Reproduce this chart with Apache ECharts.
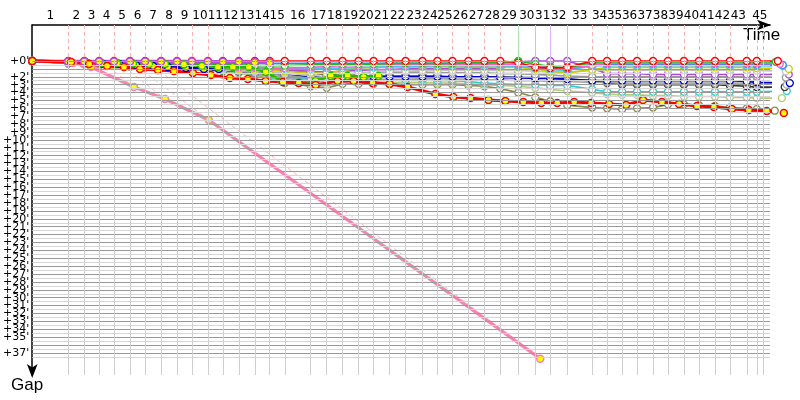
<!DOCTYPE html>
<html><head><meta charset="utf-8">
<script src="https://cdn.jsdelivr.net/npm/echarts@6/dist/echarts.min.js"></script>
<style>html,body{margin:0;padding:0;background:#fff}#c{width:800px;height:400px}</style>
</head><body><div id="c"></div>
<script>
// time (min) at which the leader completes each lap (index 0 = start)
const lapEndTimes = [0,2.34,3.38,4.35,5.32,6.36,7.34,8.38,9.42,10.39,11.43,
  12.40,13.44,14.48,15.45,16.43,18.12,19.16,20.19,21.23,22.21,
  23.25,24.29,25.39,26.36,27.34,28.38,29.42,30.45,31.62,32.73,
  33.70,34.81,36.43,37.40,38.38,39.35,40.39,41.36,42.40,43.38,
  44.42,45.39,46.49,47.14,47.53];
const lapNumbers = Array.from({length:45},(_,i)=>i+1);
const gapTicks = Array.from({length:38},(_,i)=>i);
// leader of each lap 1..45 (R red, G green, P purple)
const lapLeader = ['R','R','R','R','R','R','R','R','R','R','R','R','R','R','R','R','R','R','R','R',
  'R','R','R','R','R','R','R','R','G','P','P','P','R','R','R','R','R','R','R','R','R','R','R','R','R'];

// thin series: gap per lap (0..45)
const gapRed     = [0,0,0,0,0,0,0,0,0,0,0, 0,0,0,0,0,0,0,0,0,0, 0,0,0,0,0,0,0,0, 0.2,0.8,0.9,0.8, 0,0,0,0,0,0,0,0,0,0,0,0,0];
const gapGreen   = [0,0.1,0.2,0.2,0.3,0.3,0.3,0.4,0.4,0.4,0.5, 0.5,0.5,0.6,0.6,0.6,0.5,0.5,0.4,0.4,0.4, 0.3,0.3,0.3,0.3,0.3,0.2,0.2,0.2, 0,0.4,0.7,0.9, 0.15,0.1,0.1,0.1,0.1,0.1,0.1,0.1,0.1,0.1,0.1,0.1,0.1];
const gapMagenta = [0,0.2,0.3,0.3,0.4,0.4,0.5,0.5,0.6,0.6,0.7, 0.7,0.8,0.8,0.9,0.9,0.8,0.7,0.6,0.6,0.5, 0.5,0.5,0.5,0.4,0.4,0.4,0.4,0.4, 0.4,0.6,0.8,1.0, 0.5,0.3,0.3,0.3,0.3,0.3,0.3,0.3,0.3,0.3,0.3,0.3,0.35];
const gapBlue    = [0,0.1,0.2,0.2,0.2,0.3,0.3,0.3,0.3,0.3,0.3, 0.3,0.3,0.3,0.3,0.3,0.3,0.3,0.3,0.3,0.3, 0.3,0.3,0.3,0.3,0.3,0.3,0.3,0.4, 0.5,0.7,0.9,1.1, 0.4,0.4,0.4,0.4,0.4,0.4,0.4,0.4,0.4,0.4,0.4,0.45,0.5];
const gapSky     = [0,0.2,0.3,0.4,0.4,0.5,0.5,0.6,0.6,0.7,0.7, 0.8,0.8,0.9,0.9,1.0,1.0,0.9,0.9,0.8,0.8, 0.7,0.7,0.7,0.6,0.6,0.6,0.6,0.6, 0.7,0.9,1.1,1.2, 0.6,0.6,0.6,0.6,0.6,0.6,0.6,0.6,0.6,0.6,0.6,0.6,0.65];
const gapYellow  = [0,0.2,0.3,0.4,0.5,0.5,0.6,0.6,0.7,0.7,0.8, 0.9,1.0,1.1,1.2,1.3,1.5,1.6,1.2,0.9,0.8, 0.75,0.75,0.75,0.75,0.75,0.75,0.75,0.8, 0.8,1.0,1.3,1.5, 1.1,0.8,0.8,0.8,0.8,0.8,0.8,0.8,0.8,0.8,0.8,0.9,1.0];
const gapSilver  = [0,0.3,0.4,0.5,0.6,0.7,0.8,0.8,0.9,1.0,1.0, 1.1,1.2,1.3,1.4,1.5,1.8,2.0,1.7,1.5,1.4, 1.3,1.3,1.2,1.2,1.2,1.2,1.2,1.2, 1.2,1.3,1.4,1.4, 1.2,1.15,1.15,1.15,1.15,1.15,1.15,1.15,1.15,1.15,1.15,1.2,1.3];
const gapPurple  = [0,0.3,0.4,0.5,0.5,0.6,0.6,0.7,0.7,0.8,0.8, 0.9,0.9,1.0,1.0,1.1,1.3,1.4,1.3,1.2,1.1, 1.1,1.0,1.0,1.0,1.0,0.9,0.9,0.9, 0.1,0,0,0, 0.9,1.6,1.6,1.6,1.7,1.7,1.7,1.7,1.7,1.7,1.7,1.7,1.7];
const gapGray    = [0,0.2,0.3,0.4,0.5,0.6,0.6,0.7,0.8,0.9,1.0, 1.1,1.3,1.5,1.6,1.8,2.2,2.4,2.0,1.6,1.4, 1.4,1.4,1.4,1.5,1.5,1.5,1.5,1.6, 1.6,1.7,1.8,1.9, 2.0,2.0,2.0,2.0,2.0,2.0,2.0,2.0,2.0,2.0,2.0,2.0,2.1];
const gapNavy    = [0,0.2,0.3,0.4,0.5,0.6,0.7,0.7,0.8,0.9,1.0, 1.1,1.3,1.5,1.6,1.8,2.0,2.0,2.0,2.0,2.0, 2.0,2.0,2.0,2.0,2.0,2.0,2.0,2.1, 2.1,2.2,2.2,2.3, 2.5,2.5,2.5,2.5,2.5,2.5,2.5,2.5,2.5,2.5,2.6,2.7,2.8];
const gapAsh     = [0,0.3,0.4,0.5,0.6,0.7,0.7,0.8,0.9,1.0,1.0, 1.1,1.3,1.6,1.8,2.2,2.5,2.7,2.4,2.2,2.1, 2.1,2.1,2.2,2.2,2.3,2.3,2.4,2.4, 2.5,2.5,2.6,2.6, 2.7,2.7,2.8,2.8,2.8,2.8,2.8,2.8,2.8,2.8,2.8,2.9,3.0];
const gapBlack   = [0,0.3,0.4,0.5,0.6,0.7,0.8,0.9,0.9,1.0,1.1, 1.2,1.3,1.5,1.0,1.2,1.5,1.7,1.8,1.9,1.9, 1.9,1.9,1.9,1.9,2.0,2.0,2.0,2.0, 2.1,2.1,2.2,2.3, 2.5,2.8,3.0,3.0,3.0,3.0,3.0,3.0,3.0,3.1,3.2,3.3,3.3];
const gapCyan    = [0,0.3,0.4,0.5,0.6,0.7,0.8,0.9,1.0,1.0,1.1, 1.2,1.4,1.7,1.9,2.1,2.3,2.4,2.4,2.4,2.4, 2.4,2.4,2.4,2.5,2.5,2.6,2.8,2.9, 3.0,3.0,3.1,3.1, 3.6,3.9,3.9,3.9,3.9,3.9,3.9,3.9,3.9,3.9,3.9,3.9,3.8];
const gapLime    = [0,0.3,0.4,0.5,0.6,0.7,0.8,0.9,1.0,1.1,1.2, 1.3,1.5,1.9,2.3,2.6,2.9,3.0,1.9,2.4,2.6, 2.7,2.7,2.7,2.8,2.8,2.9,3.0,3.1, 3.2,3.4,3.6,3.8, 4.0,4.2,4.3,4.3,4.4,4.4,4.5,4.5,4.5,4.6,4.6,4.7,4.7];
const gapOlive   = [0,0.3,0.4,0.5,0.6,0.7,0.8,0.9,1.0,1.1,1.2, 1.3,1.5,1.8,2.3,2.8,3.2,3.4,2.9,2.9,2.9, 2.9,3.0,3.0,3.0,3.0,3.1,3.2,3.5, 4.0,4.6,5.1,5.6, 5.9,6.0,6.1,6.0,5.9,5.5,5.5,5.6,5.7,5.9,6.0,6.1,6.3];
// finishing time of each thin series (last point)
const finishTimes = {red:48.51, green:48.38, magenta:48.64, blue:48.83, sky:48.83, yellow:49.22, silver:49.03,
  purple:49.22, gray:49.03, navy:49.29, ash:49.09, black:48.96, cyan:49.09, lime:48.77, olive:48.31};

// thick (highlighted) series: own crossing times and gaps
const timeRedY = [0,2.53,3.70,4.87,5.97,7.01,8.18,9.22,10.45,11.62,12.86,14.03,15.19,16.30,17.34,18.44,19.87,20.91,22.14,23.25,24.42,26.23,27.40,28.51,29.68,30.78,31.95,33.12,34.16,35.26,36.36,37.53,38.64,39.74,40.97,42.08,43.25,44.35,45.52,46.62,47.79,48.90];
const gapRedY  = [0,0.13,0.38,0.63,0.76,1.01,1.14,1.27,1.52,1.77,2.15,2.28,2.53,2.66,2.78,3.04,2.53,2.53,2.78,2.91,3.29,4.18,4.56,4.68,4.94,5.06,5.19,5.32,5.32,5.19,5.32,5.44,5.57,4.94,5.19,5.44,5.70,5.82,6.08,6.20,6.33,6.58];
const timeNavyY = [0,2.47,3.57,4.61,5.65,6.75,7.86,8.83,10.0,11.17,12.14];
const gapNavyY  = [0,0.13,0.25,0.38,0.38,0.51,0.63,0.76,0.89,1.01,1.01];
const timeGreenY = [0,2.40,3.51,4.48,5.52,6.56,7.60,8.64,9.87,11.04,12.08,13.05,14.09,15.19,16.23,17.34,18.44,19.42,20.52,21.56,22.53];
const gapGreenY  = [0,0.13,0.19,0.25,0.25,0.32,0.38,0.38,0.44,0.63,0.76,0.76,0.76,1.39,2.53,2.78,2.53,1.90,1.90,2.03,1.90];
const timePurpleY = [0,2.34,3.38,4.35,5.32,6.36,7.34,8.38,9.42,10.39,11.43,12.40,13.44,14.48,15.45];
const gapPurpleY  = [0,0.05,0.05,0.05,0.05,0.05,0.05,0.05,0.05,0.05,0.05,0.1,0.1,0.15,0.2];
const timePinkY = [0,2.66,3.83,6.62,8.64,11.49,33.05];
const gapPinkY  = [0,0.25,0.76,3.29,4.81,7.47,37.72];

const Y_MIN = -4.56, Y_MAX = 39.79, X_MAX = 48;

const thin = [
  ['olive','#8c8a48',gapOlive],['lime','#b4cc78',gapLime],['cyan','#33cccc',gapCyan],['black','#333333',gapBlack],
  ['ash','#a8a8a8',gapAsh],['navy','#0000cc',gapNavy],['gray','#999999',gapGray],['purple','#a84cd0',gapPurple],
  ['silver','#c4c4c4',gapSilver],['yellow','#cccc00',gapYellow],['sky','#40c8f0',gapSky],['blue','#2f86ff',gapBlue],
  ['magenta','#ff5ccd',gapMagenta],['green','#22bb22',gapGreen],['red','#ff0000',gapRed]
];
// [name, colour, times, gaps, line width, lap assignment: by point order or by crossing time]
const thick = [
  ['pinkY','#f386b0',timePinkY,gapPinkY,3.2,'order'],['navyY','#0000dd',timeNavyY,gapNavyY,2.8,'order'],
  ['greenY','#22bb00',timeGreenY,gapGreenY,2.8,'order'],['purpleY','#b84ae6',timePurpleY,gapPurpleY,3.2,'order'],
  ['redY','#ff0000',timeRedY,gapRedY,3,'time']
];

const series = [];
const hLines = [];
for (let v = 0; v <= 37.5; v += 0.5) hLines.push({yAxis: v, lineStyle:{color: v % 1 === 0 ? '#999999' : '#d6d6d6', width:1, type:'solid'}});
const vLines = [];
const leaderCol = {R:'#ffb0b0', G:'#a8e8a8', P:'#e6b0ff'};
for (let k = 1; k < lapEndTimes.length; k++) {
  const t = lapEndTimes[k];
  vLines.push([{coord:[t,0]},{coord:[t,Y_MAX], lineStyle:{color:'#cfcfcf', width:1, type:'solid'}}]);
  const L = lapLeader[k-1];
  vLines.push([{coord:[t,Y_MIN]},{coord:[t,0], lineStyle:{color:leaderCol[L], width:1, type: L==='R' ? [4,3] : 'solid'}}]);
}
series.push({type:'line', data:[], silent:true, z:1,
  markLine:{silent:true, symbol:['none','none'], label:{show:false}, animation:false, data: hLines.concat(vLines)}});

// per-lap points of every car, used for the dashed lap waves
const lapOf = (t)=>{ let k=0; for (let j=1;j<lapEndTimes.length;j++) if (lapEndTimes[j] <= t+0.15) k=j; return k; };
const lapPoints = lapNumbers.map(()=>[]);
const thinData = thin.map(([name,col,gaps])=>gaps.map((g,i)=>[i===gaps.length-1 ? finishTimes[name] : lapEndTimes[i], g]));
thinData.forEach(d=>d.forEach((p,i)=>{ if (i>0 && p[1]!=null) lapPoints[i-1].push(p); }));
thick.forEach(([name,col,ts,gs,w,mode])=>{
  const byLap = {};
  ts.forEach((t,i)=>{ if (i>0) byLap[mode==='order' ? i : lapOf(t)] = [t,gs[i]]; });
  Object.keys(byLap).forEach(k=>{ if (k>0 && k<=45) lapPoints[k-1].push(byLap[k]); });
});
lapPoints.forEach((pts,k)=>{
  pts.sort((a,b)=>a[1]-b[1]);
  const L = lapLeader[k];
  series.push({type:'line', data:pts, silent:true, z:2, symbol:'none', clip:false,
    lineStyle:{color:leaderCol[L], width:1, type: L==='R' ? [4,3] : 'solid'}});
});

thin.forEach(([name,col,gaps],j)=>{
  series.push({type:'line', name, data: thinData[j], clip:false, z:3, symbol:'circle', symbolSize:7,
    lineStyle:{color:col, width:1.7}, itemStyle:{color:'#ffffff', borderColor:col, borderWidth:1.3}});
});
thick.forEach(([name,col,ts,gs,w])=>{
  series.push({type:'line', name, data: ts.map((t,i)=>[t,gs[i]]), clip:false, z:4, symbol:'circle', symbolSize:7,
    lineStyle:{color:col, width:w}, itemStyle:{color:'#ffff00', borderColor:col, borderWidth:1.5}});
});

const lapMid = lapNumbers.map((n)=> (lapEndTimes[n-1]+lapEndTimes[n])/2);

const chart = echarts.init(document.getElementById('c'), null, {renderer:'canvas'});
chart.setOption({
  animation:false,
  backgroundColor:'#ffffff',
  grid:{left:31, right:30, top:25, bottom:25},
  xAxis:{type:'value', position:'top', min:0, max:X_MAX,
    axisLine:{show:true, onZero:false, lineStyle:{color:'#000', width:1.5}, symbol:['none','arrow'], symbolSize:[8,14], symbolOffset:[0,1]},
    axisTick:{show:false}, splitLine:{show:false},
    axisLabel:{customValues: lapMid, margin:3, color:'#000', fontSize:12, fontFamily:'DejaVu Sans',
      showMinLabel:true, showMaxLabel:true, hideOverlap:false,
      formatter:(v)=>{ let best=0; lapMid.forEach((m,i)=>{ if (Math.abs(m-v) < Math.abs(lapMid[best]-v)) best=i; }); return String(lapNumbers[best]); }}
  },
  yAxis:{type:'value', inverse:true, min:Y_MIN, max:Y_MAX,
    axisLine:{show:true, onZero:false, lineStyle:{color:'#000', width:1.5}, symbol:['arrow','none'], symbolSize:[8,14], symbolOffset:[-3,0]},
    axisTick:{show:false}, splitLine:{show:false},
    axisLabel:{customValues: gapTicks, margin:3, color:'#000', fontSize:11, fontFamily:'DejaVu Sans',
      showMinLabel:true, showMaxLabel:true, hideOverlap:false,
      formatter:(v)=>'+'+Math.round(v)+"'"}
  },
  graphic:[
    {type:'text', left:743, top:27, style:{text:'Time', font:'17px "Liberation Sans"', fill:'#000'}},
    {type:'text', left:11, top:377, style:{text:'Gap', font:'17px "Liberation Sans"', fill:'#000'}}
  ],
  series
});
</script></body></html>
